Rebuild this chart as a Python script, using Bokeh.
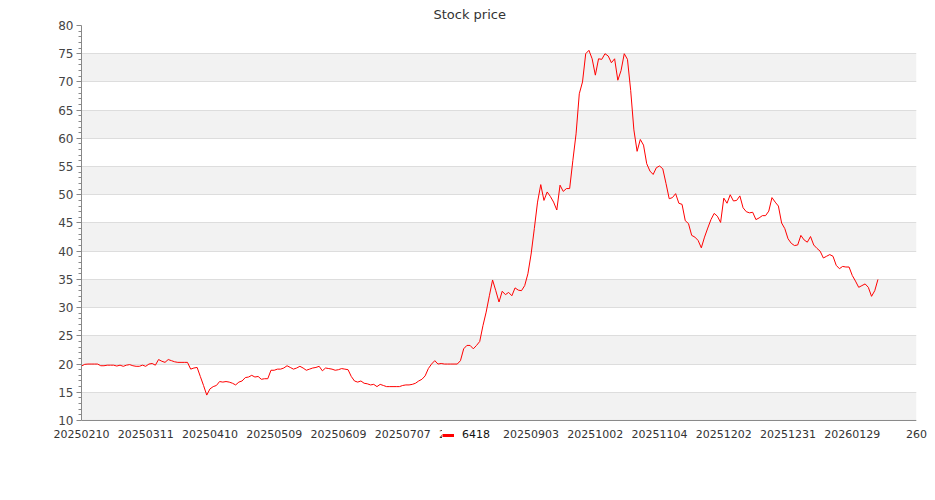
from bokeh.plotting import figure
from bokeh.models import (Range1d, FixedTicker, Legend, LegendItem, Span)
from bokeh.embed import file_html
from bokeh.resources import INLINE

title_text = "Stock price"
series_name = "6418"

prices = [
    19.65, 19.95, 20.0, 20.0, 20.0, 20.0, 19.7, 19.7, 19.8, 19.8,
    19.8, 19.65, 19.8, 19.6, 19.8, 19.9, 19.7, 19.6, 19.6, 19.8,
    19.6, 20.0, 20.1, 19.8, 20.8, 20.5, 20.3, 20.8, 20.6, 20.4,
    20.3, 20.3, 20.3, 20.3, 19.1, 19.3, 19.4, 17.8, 16.2, 14.5,
    15.6, 16.0, 16.2, 16.9, 16.8, 16.9, 16.8, 16.6, 16.3, 16.8,
    17.0, 17.6, 17.7, 18.0, 17.7, 17.8, 17.3, 17.4, 17.4, 18.9,
    18.9, 19.1, 19.1, 19.3, 19.7, 19.4, 19.1, 19.3, 19.6, 19.3,
    18.9, 19.1, 19.3, 19.4, 19.6, 18.8, 19.3, 19.2, 19.1, 18.9,
    19.0, 19.2, 19.1, 19.0, 17.8, 17.0, 16.8, 17.0, 16.6, 16.5,
    16.3, 16.4, 16.0, 16.4, 16.2, 16.0, 16.0, 16.0, 16.0, 16.0,
    16.2, 16.3, 16.3, 16.4, 16.6, 17.0, 17.3, 17.9, 19.2, 20.0,
    20.6, 20.0, 20.1, 20.0, 20.0, 20.0, 20.0, 20.0, 20.6, 22.7,
    23.3, 23.3, 22.7, 23.3, 24.0, 26.8, 29.2, 32.1, 34.9, 33.0,
    31.0, 32.9, 32.3, 32.7, 32.1, 33.5, 33.1, 33.0, 33.9, 36.0,
    39.5, 44.0, 48.7, 51.8, 49.0, 50.5, 49.7, 48.7, 47.3, 51.7,
    50.6, 51.1, 51.1, 56.1, 60.8, 67.9, 70.0, 75.0, 75.6, 74.1,
    71.2, 74.1, 74.0, 75.0, 74.6, 73.4, 74.1, 70.3, 72.0, 75.0,
    74.0, 68.5, 61.5, 57.7, 59.8, 58.8, 55.5, 54.2, 53.6, 54.8,
    55.1, 54.6, 52.0, 49.3, 49.5, 50.2, 48.5, 48.3, 45.4, 44.9,
    42.8, 42.5, 41.9, 40.6, 42.5, 44.1, 45.6, 46.7, 46.2, 45.1,
    49.4, 48.5, 50.0, 48.9, 49.0, 49.8, 47.7, 47.0, 46.8, 46.9,
    45.6, 45.9, 46.3, 46.3, 47.1, 49.5, 48.7, 48.0, 45.0, 44.0,
    42.2, 41.4, 41.0, 41.1, 42.8, 42.0, 41.6, 42.6, 41.1, 40.5,
    40.0, 38.8, 39.1, 39.4, 39.1, 37.5, 36.9, 37.3, 37.2, 37.2,
    35.7, 34.7, 33.6, 33.9, 34.2, 33.6, 32.0, 33.0, 35.0,
]
day_index = list(range(len(prices)))

tick_positions = [0, 20, 40, 60, 80, 100, 120, 140, 160, 180, 200, 220, 240, 260]
tick_labels = ["20250210", "20250311", "20250410", "20250509", "20250609",
               "20250707", "20250805", "20250903", "20251002", "20251104",
               "20251202", "20251231", "20260129", "260"]

y_min, y_max = 10, 80
y_ticks = [10, 15, 20, 25, 30, 35, 40, 45, 50, 55, 60, 65, 70, 75, 80]
y_minor = [v for v in range(10, 81) if v % 5 != 0]
FONT = "DejaVu Sans"

# frame extends a little below the y-axis floor so the legend can sit over the x labels
p = figure(width=933, height=490, output_backend="svg", toolbar_location=None,
           x_range=Range1d(0, 260), y_range=Range1d(5.92, y_max),
           min_border_left=81, min_border_right=17, min_border_bottom=47,
           min_border_top=25)
p.outline_line_color = None
p.background_fill_color = "white"
p.border_fill_color = "white"

p.title.text = title_text
p.title.align = "left"
p.title.offset = 352
p.title.text_font = FONT
p.title.text_font_size = "13px"
p.title.text_font_style = "normal"
p.title.text_color = "#333333"
p.title.standoff = 7

r = p.line(day_index, prices, line_color="red", line_width=1)
# single-point proxy (draws nothing in the plot) used only for the thicker legend swatch
legend_proxy = p.line(x=day_index[:1], y=prices[:1], line_color="red", line_width=3)

# grids
p.xgrid.visible = False
p.ygrid.ticker = FixedTicker(ticks=y_ticks)
p.ygrid.grid_line_color = "#dddddd"
p.ygrid.band_fill_color = "#f2f2f2"
p.ygrid.band_fill_alpha = 1.0

# y axis
p.yaxis.bounds = (y_min, y_max)
p.yaxis.ticker = FixedTicker(ticks=y_ticks, minor_ticks=y_minor)
p.yaxis.axis_line_color = "#888888"
p.yaxis.major_tick_line_color = "#888888"
p.yaxis.minor_tick_line_color = "#888888"
p.yaxis.major_tick_out = 5
p.yaxis.major_tick_in = 0
p.yaxis.minor_tick_out = 3
p.yaxis.minor_tick_in = 0
p.yaxis.major_label_text_font = FONT
p.yaxis.major_label_text_font_size = "12px"
p.yaxis.major_label_text_color = "#444444"
p.yaxis.major_label_standoff = 3

# x axis (line drawn as a span at the y floor)
p.xaxis.ticker = FixedTicker(ticks=tick_positions)
p.xaxis.major_label_overrides = {t: l for t, l in zip(tick_positions, tick_labels)}
p.xaxis.axis_line_color = None
p.xaxis.major_tick_line_color = None
p.xaxis.minor_tick_line_color = None
p.xaxis.major_tick_out = 0
p.xaxis.major_tick_in = 0
p.xaxis.major_label_text_font = FONT
p.xaxis.major_label_text_font_size = "11px"
p.xaxis.major_label_text_color = "#333333"
p.xaxis.major_label_standoff = -14

p.add_layout(Span(location=y_min, dimension="width", line_color="#888888", line_width=1))

legend = Legend(items=[LegendItem(label=series_name, renderers=[legend_proxy])],
                location=(361, 2), orientation="horizontal",
                background_fill_color="white", background_fill_alpha=1.0,
                border_line_color=None, padding=3, margin=0,
                glyph_width=12, glyph_height=10, label_standoff=8, label_width=38,
                label_text_font=FONT, label_text_font_size="11px",
                label_text_color="#111111")
p.add_layout(legend, "center")

open("out.html", "w").write(file_html(p, INLINE))
